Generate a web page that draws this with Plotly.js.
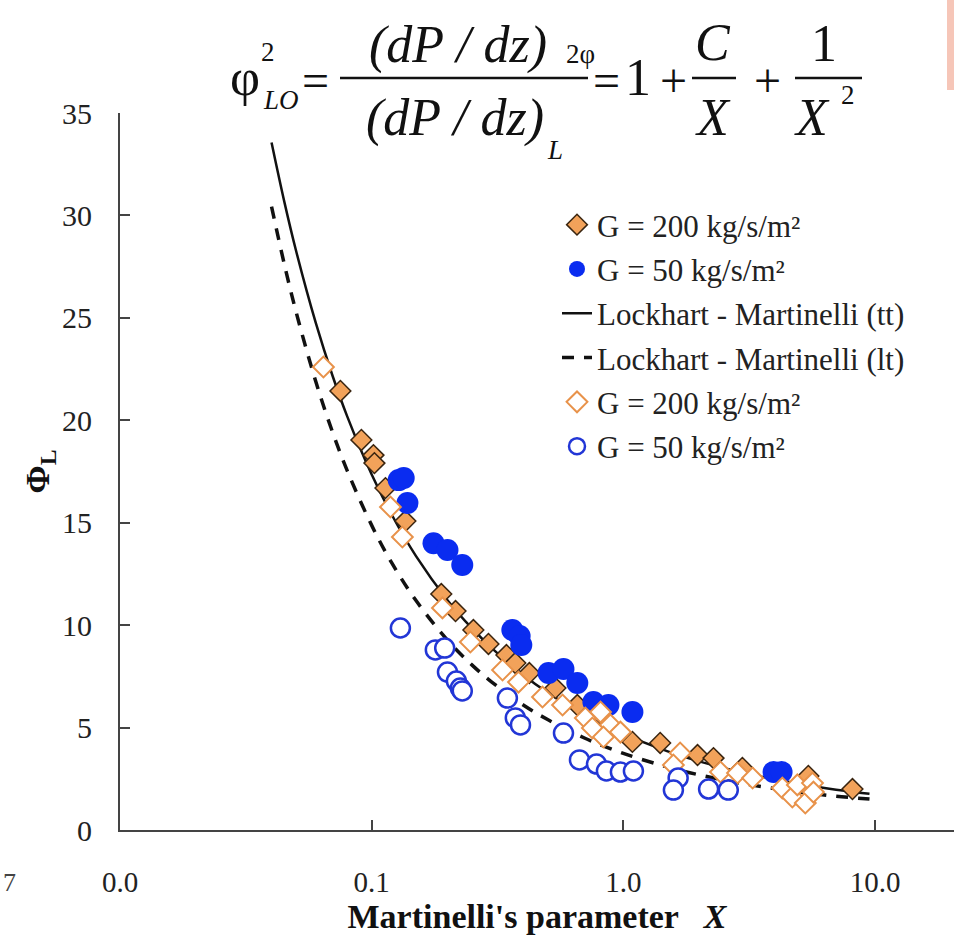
<!DOCTYPE html>
<html>
<head>
<meta charset="utf-8">
<script src="https://cdn.plot.ly/plotly-3.0.1.min.js"></script>
<style>html,body{margin:0;padding:0;background:#fff;}#chart{width:954px;height:936px;}</style>
</head>
<body>
<div id="chart"></div>
<script>
// ---- Data ----
// Lockhart-Martinelli curves
const lmX  = [0.04, 0.045, 0.05, 0.06, 0.07, 0.08, 0.1, 0.12, 0.15, 0.2, 0.25, 0.3, 0.4, 0.5, 0.7, 1.0, 1.5, 2, 3, 5, 7, 9.5];
const lmTT = [33.56, 30.65, 28.30, 24.74, 22.15, 20.18, 17.35, 15.40, 13.37, 11.22, 9.85, 8.88, 7.57, 6.71, 5.62, 4.69, 3.84, 3.35, 2.79, 2.25, 1.97, 1.77];
const lmLT = [30.43, 27.60, 25.32, 21.88, 19.40, 17.53, 14.87, 13.05, 11.20, 9.27, 8.06, 7.22, 6.10, 5.39, 4.49, 3.74, 3.07, 2.69, 2.26, 1.86, 1.65, 1.51];

// G = 200 kg/s/m2, filled diamonds
const g200fX = [0.0751, 0.091, 0.1016, 0.1025, 0.1134, 0.1361, 0.189, 0.2153, 0.2535, 0.291, 0.343, 0.372, 0.423, 0.537, 0.656, 1.086, 1.40, 1.97, 2.28, 2.97, 5.43, 8.13];
const g200fY = [21.43, 19.04, 18.30, 17.91, 16.69, 15.08, 11.52, 10.69, 9.76, 9.08, 8.54, 8.15, 7.66, 6.93, 6.10, 4.30, 4.25, 3.66, 3.51, 3.03, 2.64, 2.00];

// G = 50 kg/s/m2, filled circles
const g50fX = [0.128, 0.134, 0.1387, 0.176, 0.200, 0.229, 0.362, 0.387, 0.393, 0.504, 0.578, 0.656, 0.760, 0.872, 1.086, 3.95, 4.25];
const g50fY = [17.08, 17.18, 15.96, 14.00, 13.67, 12.94, 9.76, 9.47, 9.03, 7.66, 7.86, 7.18, 6.25, 6.10, 5.76, 2.83, 2.83];

// G = 200 kg/s/m2, open diamonds
const g200oX = [0.0643, 0.1187, 0.1324, 0.191, 0.2466, 0.331, 0.383, 0.477, 0.573, 0.706, 0.753, 0.811, 0.888, 0.833, 0.973, 1.68, 1.58, 2.43, 2.84, 3.26, 4.28, 4.69, 4.91, 5.28, 5.64, 5.69];
const g200oY = [22.60, 15.77, 14.30, 10.84, 9.18, 7.81, 7.22, 6.49, 6.10, 5.47, 4.98, 5.76, 5.13, 4.54, 4.78, 3.76, 3.17, 2.83, 2.78, 2.54, 2.05, 1.61, 2.20, 1.32, 2.29, 1.85];

// G = 50 kg/s/m2, open circles
const g50oX = [0.130, 0.179, 0.195, 0.200, 0.217, 0.225, 0.229, 0.346, 0.372, 0.390, 0.578, 0.669, 0.782, 0.856, 0.973, 1.096, 1.65, 1.58, 2.18, 2.61];
const g50oY = [9.86, 8.79, 8.88, 7.71, 7.27, 6.93, 6.79, 6.44, 5.47, 5.13, 4.73, 3.42, 3.22, 2.88, 2.83, 2.88, 2.54, 1.95, 2.00, 1.95];

const xTickVals = [0.01, 0.1, 1, 10];
const xTickText = ["0.0", "0.1", "1.0", "10.0"];
const yTickVals = [0, 5, 10, 15, 20, 25, 30, 35];
const legendNames = ["G = 200 kg/s/m²", "G = 50 kg/s/m²", "Lockhart - Martinelli (tt)", "Lockhart - Martinelli (lt)", "G = 200 kg/s/m²", "G = 50 kg/s/m²"];

// ---- Layout geometry (pixels) ----
const W = 954, H = 936, L = 120, R = 0, T = 113, B = 106;
const pw = W - L - R, ph = H - T - B;
const px = p => (p - L) / pw;
const py = p => (H - B - p) / ph;

const serif = "Liberation Serif, Times New Roman, serif";

const traces = [
  {x: lmX, y: lmTT, type: 'scatter', mode: 'lines', name: legendNames[2], legendrank: 3, legendgroup: 'c',
   line: {color: '#111', width: 2.5, shape: 'spline'}},
  {x: lmX, y: lmLT, type: 'scatter', mode: 'lines', name: legendNames[3], legendrank: 4, legendgroup: 'd',
   line: {color: '#111', width: 3.5, dash: '12px,10px', shape: 'spline'}},
  {x: g200fX, y: g200fY, type: 'scatter', mode: 'markers', name: legendNames[0], legendrank: 1, legendgroup: 'a',
   marker: {symbol: 'diamond', size: 16, color: '#F2A25A', line: {color: '#3a2510', width: 1.5}}},
  {x: g50fX, y: g50fY, type: 'scatter', mode: 'markers', name: legendNames[1], legendrank: 2, legendgroup: 'b',
   marker: {symbol: 'circle', size: 22, color: '#0a2cf0', line: {color: '#0a2cf0', width: 0}}},
  {x: g200oX, y: g200oY, type: 'scatter', mode: 'markers', name: legendNames[4], legendrank: 5, legendgroup: 'e',
   marker: {symbol: 'diamond', size: 16, color: '#ffffff', line: {color: '#E8924A', width: 2}}},
  {x: g50oX, y: g50oY, type: 'scatter', mode: 'markers', name: legendNames[5], legendrank: 6, legendgroup: 'f',
   marker: {symbol: 'circle', size: 19, color: '#ffffff', line: {color: '#2236d6', width: 2.5}}}
];

const fBig = {family: serif, size: 52, color: '#111'};
const fMid = {family: serif, size: 48, color: '#111'};
const fSub = {family: serif, size: 27, color: '#111'};
function ann(text, xp, yp, font, extra) {
  return Object.assign({text: text, x: px(xp), y: py(yp), xref: 'paper', yref: 'paper',
    showarrow: false, xanchor: 'center', yanchor: 'middle', borderpad: 0, font: font}, extra || {});
}
const annotations = [
  ann('φ', 245, 77, {family: serif, size: 52, color: '#111'}),
  ann('2', 268, 52, fSub),
  ann('<i>LO</i>', 281, 100, fSub),
  ann('=', 315, 80, fMid),
  ann('<i>(dP / dz)</i>', 458, 45, fBig),
  ann('2φ', 580, 54, fSub),
  ann('<i>(dP / dz)</i>', 455, 118, fBig),
  ann('<i>L</i>', 555, 150, fSub),
  ann('=', 606, 80, fMid),
  ann('1', 638, 78, fBig),
  ann('+', 673, 80, fMid),
  ann('<i>C</i>', 713, 42, fBig),
  ann('<i>X</i>', 713, 118, fBig),
  ann('+', 767, 80, fMid),
  ann('1', 824, 44, fBig),
  ann('<i>X</i>', 812, 118, fBig),
  ann('2', 848, 95, fSub),
  ann('7', 10, 882, {family: serif, size: 26, color: '#444'})
];
const shapes = [
  {type: 'line', xref: 'paper', yref: 'paper', x0: px(340), x1: px(588), y0: py(78), y1: py(78), line: {color: '#111', width: 2.5}},
  {type: 'line', xref: 'paper', yref: 'paper', x0: px(692), x1: px(736), y0: py(78), y1: py(78), line: {color: '#111', width: 2.5}},
  {type: 'line', xref: 'paper', yref: 'paper', x0: px(795), x1: px(862), y0: py(78), y1: py(78), line: {color: '#111', width: 2.5}},
  {type: 'rect', xref: 'paper', yref: 'paper', x0: px(947), x1: px(954), y0: py(90), y1: py(0), fillcolor: '#F6C6B8', line: {width: 0}}
];

const layout = {
  width: W, height: H,
  margin: {l: L, r: R, t: T, b: B, pad: 0},
  paper_bgcolor: '#fff', plot_bgcolor: '#fff',
  font: {family: serif, color: '#222'},
  showlegend: true,
  legend: {x: px(557), y: py(198), xanchor: 'left', yanchor: 'top', bgcolor: 'rgba(0,0,0,0)',
    font: {family: serif, size: 31, color: '#222'}, tracegroupgap: 1, itemwidth: 30},
  xaxis: {type: 'log', range: [-2, -2 + pw / 251.7], tickvals: xTickVals, ticktext: xTickText,
    showgrid: false, zeroline: false, showline: true, linecolor: '#444', linewidth: 2,
    ticks: 'inside', ticklen: 10, tickwidth: 2, tickcolor: '#444', ticklabelstandoff: 25,
    tickfont: {family: serif, size: 29, color: '#222'},
    title: {text: "<b>Martinelli's parameter   <i>X</i></b>", font: {family: serif, size: 34, color: '#111'}, standoff: 4}},
  yaxis: {range: [0, 35], tickvals: yTickVals, showgrid: false, zeroline: false, showline: true, linecolor: '#444', linewidth: 2,
    ticks: 'inside', ticklen: 10, tickwidth: 2, tickcolor: '#444', ticklabelstandoff: 20,
    tickfont: {family: serif, size: 30, color: '#222'},
    title: {text: '<b>Φ<sub>L</sub></b>', font: {family: serif, size: 34, color: '#111'}, standoff: 2}},
  annotations: annotations,
  shapes: shapes
};

Plotly.newPlot('chart', traces, layout, {displayModeBar: false, staticPlot: true});
</script>
</body>
</html>
